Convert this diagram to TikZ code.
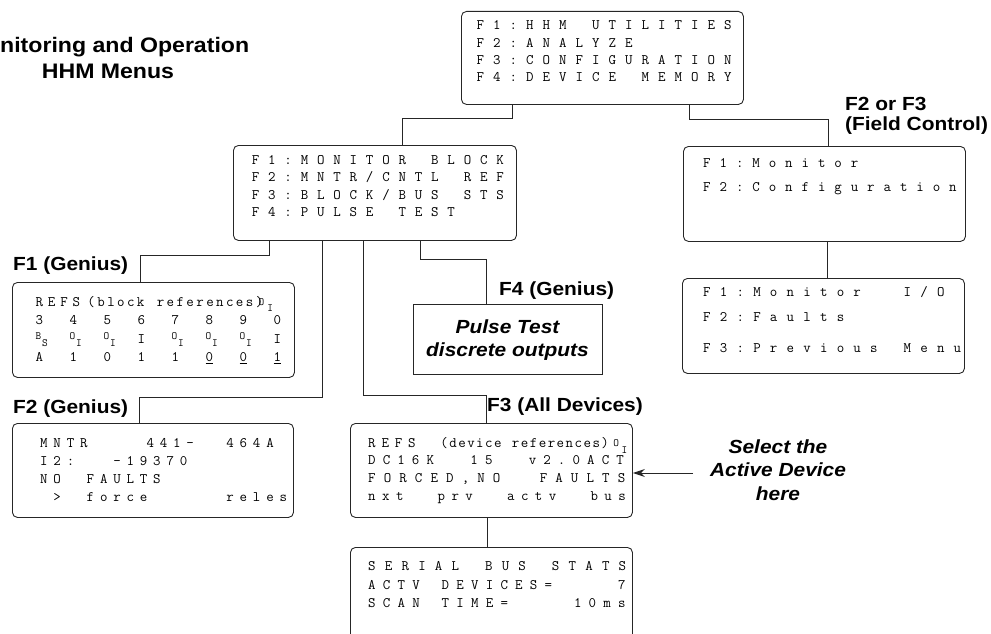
\documentclass[tikz,border=0pt]{standalone}
\usepackage{fontspec}
\newfontfamily\labfam[FakeStretch=1.1]{Liberation Sans}
\usetikzlibrary{arrows.meta}
\makeatletter
\def\lcdbar{|}
\newcommand\lcd[2]{\def\lcdpitch{#1}\@tfor\lcdtok:=#2\do{\ifx\lcdtok\lcdbar\hspace*{0.5\dimexpr\lcdpitch\relax}\else\makebox[\lcdpitch][l]{\lcdtok}\fi}}
\makeatother
\newcommand\lcdfont{\ttfamily\fontsize{14.5}{17}\selectfont}
\newcommand\smallmono{\fontsize{11}{11}\selectfont}
\newcommand\sst[2]{\raisebox{3.3pt}{\smallmono#1}\kern0.8pt\raisebox{-3.8pt}{\smallmono#2}}
\newcommand\labfont{\labfam\bfseries\fontsize{19}{22}\selectfont}
\newcommand\notefont{\labfam\bfseries\itshape\fontsize{19}{22}\selectfont}
\newcommand\titlefont{\labfam\bfseries\fontsize{21}{24}\selectfont}
\tikzset{
 lcdbox/.style={draw=black!85, line width=0.9pt, rounded corners=5pt, anchor=north west, inner sep=0pt},
 lcdtxt/.style={anchor=base west, inner sep=0pt, font=\lcdfont},
 lab/.style={anchor=base west, inner sep=0pt, font=\labfont},
 note/.style={anchor=base, inner sep=0pt, font=\notefont},
 ttl/.style={anchor=base, inner sep=0pt, font=\titlefont},
 conn/.style={draw=black!85, line width=1pt},
 arr/.style={conn, -{Stealth[length=12pt,width=8pt]}},
}
\begin{document}
\begin{tikzpicture}[x=1pt,y=-1pt]
\useasboundingbox (0,0) rectangle (991,634);
\clip (0,0) rectangle (991,634);
% title
\node[ttl] (t1) at (108,53) {Monitoring and Operation};
\node[ttl] (t2) at (108,78) {HHM Menus};
% boxes
\node[lcdbox, minimum width=282pt, minimum height=93pt] (b1) at (461,11) {};
\node[lcdbox, minimum width=283pt, minimum height=95pt] (b2) at (233,145) {};
\node[lcdbox, minimum width=282pt, minimum height=95pt] (b3) at (683,146) {};
\node[lcdbox, minimum width=282pt, minimum height=95pt] (b4) at (682,278) {};
\node[lcdbox, minimum width=282pt, minimum height=95pt] (g1) at (12,282) {};
\node[lcdbox, minimum width=281pt, minimum height=94pt] (g2) at (12,423) {};
\node[lcdbox, minimum width=282pt, minimum height=94pt] (dev) at (350,423) {};
\node[lcdbox, minimum width=282pt, minimum height=130pt] (ser) at (350,547) {};
\node[draw=black!85, line width=0.9pt, anchor=north west, inner sep=0pt, minimum width=189pt, minimum height=70pt] (pulse) at (413,304) {};
% box 1
\node[lcdtxt] (b1a) at (476.5,29.5) {\lcd{16.5pt}{F1:HHM~UTILITIES}};
\node[lcdtxt] (b1b) at (476.5,47.2) {\lcd{16.5pt}{F2:ANALYZE}};
\node[lcdtxt] (b1c) at (476.5,64.5) {\lcd{16.5pt}{F3:CONFIGURATION}};
\node[lcdtxt] (b1d) at (476.5,81.8) {\lcd{16.5pt}{F4:DEVICE~MEMORY}};
% box 2
\node[lcdtxt] (b2a) at (251.7,164) {\lcd{16.3pt}{F1:MONITOR~BLOCK}};
\node[lcdtxt] (b2b) at (251.7,181.7) {\lcd{16.3pt}{F2:MNTR/CNTL~REF}};
\node[lcdtxt] (b2c) at (251.7,199) {\lcd{16.3pt}{F3:BLOCK/BUS~STS}};
\node[lcdtxt] (b2d) at (251.7,216.3) {\lcd{16.3pt}{F4:PULSE~TEST}};
% box 3
\node[lcdtxt] (b3a) at (703,167.5) {\lcd{16.4pt}{F1:Monitor}};
\node[lcdtxt] (b3b) at (703,191.5) {\lcd{16.4pt}{F2:Configuration}};
% box 4
\node[lcdtxt] (b4a) at (703,296) {\lcd{16.7pt}{F1:Monitor~~I/O}};
\node[lcdtxt] (b4b) at (703,321) {\lcd{16.7pt}{F2:Faults}};
\node[lcdtxt] (b4c) at (703,352.5) {\lcd{16.7pt}{F3:Previous~Menu}};
% F1 genius box
\node[lcdtxt] (g1a) at (35.5,306.3) {\lcd{12.3pt}{REFS}\hspace*{2.6pt}\lcd{9.9pt}{(block~references)}\hspace*{-7pt}\raisebox{0.5pt}{\smallmono O}\kern3pt\raisebox{-5.5pt}{\smallmono I}};
\node[lcdtxt] (g1b) at (35.5,324.7) {\lcd{34pt}{34567890}};
\node[lcdtxt] (g1c) at (35.5,343) {\lcd{34pt}{{\sst{B}{S}}{\sst{O}{I}}{\sst{O}{I}}I{\sst{O}{I}}{\sst{O}{I}}{\sst{O}{I}}I}};
\node[lcdtxt] (g1d) at (35.5,361.3) {\lcd{34pt}{A1011{\underline{0}}{\underline{0}}{\underline{1}}}};
% F2 genius box
\node[lcdtxt] (g2a) at (40,447.5) {\lcd{13.3pt}{MNTR~~~~441-~~464A}};
\node[lcdtxt] (g2b) at (40,465) {\lcd{13.3pt}{I2:~~|-19370}};
\node[lcdtxt] (g2c) at (40,483) {\lcd{13.3pt}{NO~|FAULTS}};
\node[lcdtxt] (g2d) at (40,501) {\lcd{13.3pt}{~>~|force~~~~~|reles}};
% F3 all devices box
\node[lcdtxt] (d1) at (368,447) {\lcd{13.3pt}{REFS}\hspace*{19pt}\lcd{8.95pt}{(device~references)}\kern3pt\raisebox{0.5pt}{\smallmono O}\kern2.5pt\raisebox{-6pt}{\smallmono I}};
\node[lcdtxt] (d2) at (368,464.5) {\lcd{14.6pt}{DC16K~~15~~v2.0ACT}};
\node[lcdtxt] (d3) at (368,482.5) {\lcd{15.6pt}{FORCED,NO~~FAULTS}};
\node[lcdtxt] (d4) at (368,500) {\lcd{13.9pt}{nxt~~prv~~actv~~bus}};
% serial box
\node[lcdtxt] (s1) at (368,570.5) {\lcd{16.7pt}{SERIAL~BUS~STATS}};
\node[lcdtxt] (s2) at (368,589) {\lcd{14.7pt}{ACTV~DEVICES=~~~~7}};
\node[lcdtxt] (s3) at (368,607.5) {\lcd{14.7pt}{SCAN~TIME=~~~~10ms}};
% labels
\node[lab] (l1) at (845,110.7) {F2 or F3};
\node[lab] (l2) at (845,130.7) {(Field Control)};
\node[lab] (l3) at (13,270) {F1 (Genius)};
\node[lab] (l4) at (13,413.3) {F2 (Genius)};
\node[lab] (l5) at (499,295) {F4 (Genius)};
\node[lab] (l6) at (487,411.7) {F3 (All Devices)};
\node[note] (p1) at (507.5,333.3) {Pulse Test};
\node[note] (p2) at (507.5,356) {discrete outputs};
\node[note] (n1) at (778,453.3) {Select the};
\node[note] (n2) at (778,476.7) {Active Device};
\node[note] (n3) at (778,500) {here};
% connectors
\draw[conn] (b1.south -| 512,0) -- ++(0,14) -| (b2.north -| 402,0);
\draw[conn] (b1.south -| 689,0) -- ++(0,15) -| (b3.north -| 828,0);
\draw[conn] (b3.south -| 827,0) -- (b4.north -| 827,0);
\draw[conn] (b2.south -| 269,0) -- ++(0,15) -| (g1.north -| 140,0);
\draw[conn] (b2.south -| 322,0) -- ++(0,157) -| (g2.north -| 139,0);
\draw[conn] (b2.south -| 363,0) -- ++(0,155) -| (dev.north -| 486,0);
\draw[conn] (b2.south -| 420,0) -- ++(0,19) -| (pulse.north -| 486,0);
\draw[conn] (dev.south -| 487,0) -- (ser.north -| 487,0);
\coordinate (arrs) at (693,473);
\draw[arr] (arrs) -- (dev.east |- arrs);
\end{tikzpicture}
\end{document}
